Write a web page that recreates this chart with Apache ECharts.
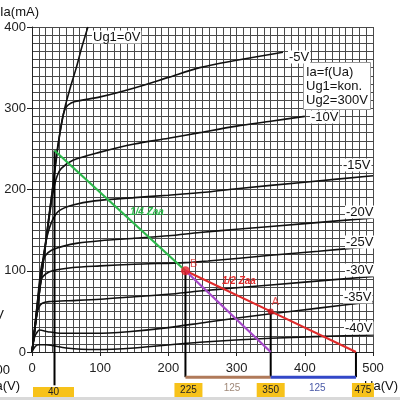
<!DOCTYPE html>
<html><head><meta charset="utf-8">
<script src="https://cdn.jsdelivr.net/npm/echarts@6/dist/echarts.min.js"></script>
<style>html,body{margin:0;padding:0;background:#fff}#c{width:400px;height:400px}</style>
</head><body><div id="c"></div>
<script>
// ---- data (Ua in V, Ia in mA) ----
const curveNames = ['Ug1=0V','-5V','-10V','-15V','-20V','-25V','-30V','-35V','-40V'];
const curve0  = [[0,0],[10,68],[20,135],[30,200],[36,243],[41,270],[48,300],[56,325],[65,350],[73,375],[82,400]];
const curve5  = [[0,0],[10,68],[20,135],[30,200],[38,252],[44,285],[48,298],[53,304],[62,308],[100,314],[150,325],[200,338],[246,350],[300,359],[368,369]];
const curve10 = [[0,0],[10,67],[20,132],[28,182],[33,205],[37,217],[43,226],[60,236],[100,246],[150,256],[200,263],[246,270],[300,278],[350,284],[400,290]];
const curve15 = [[0,0],[5,38],[10,75],[15,108],[20,134],[25,151],[31,164],[40,174],[60,181],[92,186],[150,190],[200,193],[258,197],[300,201],[400,209],[500,217]];
const curve20 = [[0,0],[4,30],[8,62],[12,95],[15,110],[20,119],[28,125],[45,130],[67,134],[100,137],[150,140],[200,143],[246,147],[300,151],[400,158],[500,165]];
const curve25 = [[0,0],[4,28],[8,58],[11,80],[14,90],[20,96],[30,100],[60,104],[100,106],[150,108],[225,110],[258,112],[350,119],[420,124],[500,130]];
const curve30 = [[0,0],[4,27],[7,45],[10,55],[15,60],[25,62],[50,63],[100,65],[150,68],[200,71],[246,75],[300,79],[400,86],[500,93]];
const curve35 = [[0,0],[4,19],[8,25],[11,27],[23,25],[43,23],[92,23],[141,25],[200,30],[258,37],[350,47],[420,54],[500,62]];
const curve40 = [[0,0],[5,7],[10,9],[20,9],[50,5],[92,3],[150,5],[246,12],[350,17],[500,21]];
const curves = [curve0,curve5,curve10,curve15,curve20,curve25,curve30,curve35,curve40];

const xTicks = [0,100,200,300,400,500];
const yTicks = [0,100,200,300,400];

const quarterLoad = [[33,248],[225,100]];          // 1/4 Zaa (green)
const halfLoad    = [[225,100],[350,50],[475,0]];   // 1/2 Zaa (red)
const purpleLoad  = [[225,100],[350,0]];
const pointB = [225,100];
const pointA = [350,50];
const dropLines = [
  [[33,248],[33,-41]],
  [[225,100],[225,-31]],
  [[350,50],[350,-31]],
  [[475,0],[475,-31]]
];
const spanBrown = [[225,-31],[350,-31]];
const spanBlue  = [[350,-31],[475,-31]];
const spanLabels = ['125','125'];
const boxValues = ['40','225','350','475'];
const boxAt = [33,225,350,475];

// ---- chart ----
const chart = echarts.init(document.getElementById('c'), null, {renderer:'canvas'});
const FONT = 'Liberation Sans, Arial, sans-serif';
const gridLine = {color:'#4a4a4a', width:1};

const series = curves.map((d,i)=>({
  type:'line', data:d, showSymbol:false, smooth:0.3,
  lineStyle:{color:'#111', width:1.6}, z:3, silent:true
}));
series.push({type:'line', data:quarterLoad, showSymbol:false, lineStyle:{color:'#2cb84a', width:2.2}, z:5});
series.push({type:'line', data:halfLoad, showSymbol:false, lineStyle:{color:'#e02a2a', width:2.2}, z:5});
series.push({type:'line', data:purpleLoad, showSymbol:false, lineStyle:{color:'#a548c8', width:2.2}, z:5});
dropLines.forEach(d=>series.push({type:'line', data:d, showSymbol:false, clip:false, lineStyle:{color:'#000', width:2}, z:4}));
series.push({type:'line', data:spanBrown, showSymbol:false, clip:false, lineStyle:{color:'#b07a5a', width:3}, z:4});
series.push({type:'line', data:spanBlue, showSymbol:false, clip:false, lineStyle:{color:'#3347c8', width:3}, z:4});
series.push({type:'scatter', data:[pointB], symbolSize:9, itemStyle:{color:'#e8202a'}, z:6,
  label:{show:true, formatter:'B', position:[9,-8], color:'#e02a2a', fontSize:11, fontFamily:FONT}});
series.push({type:'scatter', data:[pointA], symbolSize:6, itemStyle:{color:'#c0101a'}, z:6,
  label:{show:true, formatter:'A', position:[4,-12], color:'#e02a2a', fontSize:11, fontFamily:FONT}});

chart.setOption({
  animation:false,
  backgroundColor:'#fff',
  grid:{left:32, right:27, top:27, bottom:48},
  xAxis:{type:'value', min:0, max:500, interval:100,
    axisLine:{show:true, onZero:false, lineStyle:{color:'#222', width:1}},
    axisTick:{show:true, length:4, lineStyle:{color:'#222'}},
    axisLabel:{margin:10, fontSize:13, color:'#222', fontFamily:FONT,
      formatter:v=>xTicks.includes(v)?String(v):''},
    splitLine:{show:true, lineStyle:gridLine},
    minorTick:{show:false, splitNumber:10},
    minorSplitLine:{show:true, lineStyle:gridLine}},
  yAxis:{type:'value', min:0, max:400, interval:100,
    axisLine:{show:true, lineStyle:{color:'#222', width:1}},
    axisTick:{show:true, length:5, lineStyle:{color:'#222'}},
    axisLabel:{margin:6, fontSize:13, color:'#222', fontFamily:FONT,
      formatter:v=>yTicks.includes(v)?String(v):''},
    splitLine:{show:true, lineStyle:gridLine},
    minorTick:{show:false, splitNumber:10},
    minorSplitLine:{show:true, lineStyle:gridLine}},
  series:series
});

// ---- annotations ----
const px = (u,i)=>chart.convertToPixel({gridIndex:0},[u,i]);
const g = [];
const txt = (text,x,y,opt={},z=20)=>g.push({type:'text', x:x, y:y, z:z,
  style:Object.assign({text:text, fill:'#111', fontSize:13, fontFamily:FONT, align:'left', verticalAlign:'middle'}, opt)});
txt('Ia(mA)',0,12);
txt('Ua(V)',398,386,{align:'right'},17);
txt('500',10,370,{align:'right'});
txt('Ua(V)',20,386,{align:'right'});
txt('V',4,315,{align:'right'});
const labPos = [[92,37],[288,57],[310,117],[342,165],[345,212],[345,242],[345,270],[343,297],[344,328]];
curveNames.forEach((n,i)=>txt(n,labPos[i][0],labPos[i][1],{backgroundColor:'#fff', padding:[0,1,0,1]}));
g.push({type:'rect', shape:{x:303.5,y:62.5,width:67,height:47}, style:{fill:'#fff', stroke:'#999', lineWidth:1}, z:19});
txt('Ia=f(Ua)',306,72);
txt('Ug1=kon.',306,86);
txt('Ug2=300V',306,100);
txt('1/4 Zaa',130,212,{fill:'#2cb84a', fontSize:10, fontWeight:'bold', fontStyle:'italic'});
txt('1/2 Zaa',222,281,{fill:'#e02a2a', fontSize:10, fontWeight:'bold', fontStyle:'italic'});
txt(spanLabels[0],(px(225,0)[0]+px(350,0)[0])/2+4,388,{fill:'#a08878', fontSize:10, align:'center'});
txt(spanLabels[1],(px(350,0)[0]+px(475,0)[0])/2+4,388,{fill:'#4a5aa8', fontSize:10, align:'center'});
g.push({type:'rect', shape:{x:0,y:397,width:400,height:3}, style:{fill:'#d9d9d9'}, z:18});
const boxW = [41,28,28,22];
const boxDx = [-1,3,0,7];
boxValues.forEach((v,i)=>{
  const cx = px(boxAt[i],0)[0] + boxDx[i];
  const top = i===0 ? 387 : 383;
  g.push({type:'rect', shape:{x:cx-boxW[i]/2, y:top, width:boxW[i], height:397-top}, style:{fill:'#f7c21a'}, z:19});
  txt(v,cx,(top+397)/2+0.5,{fontSize:10, align:'center', fill:'#222'});
});
chart.setOption({graphic:g});
</script></body></html>
